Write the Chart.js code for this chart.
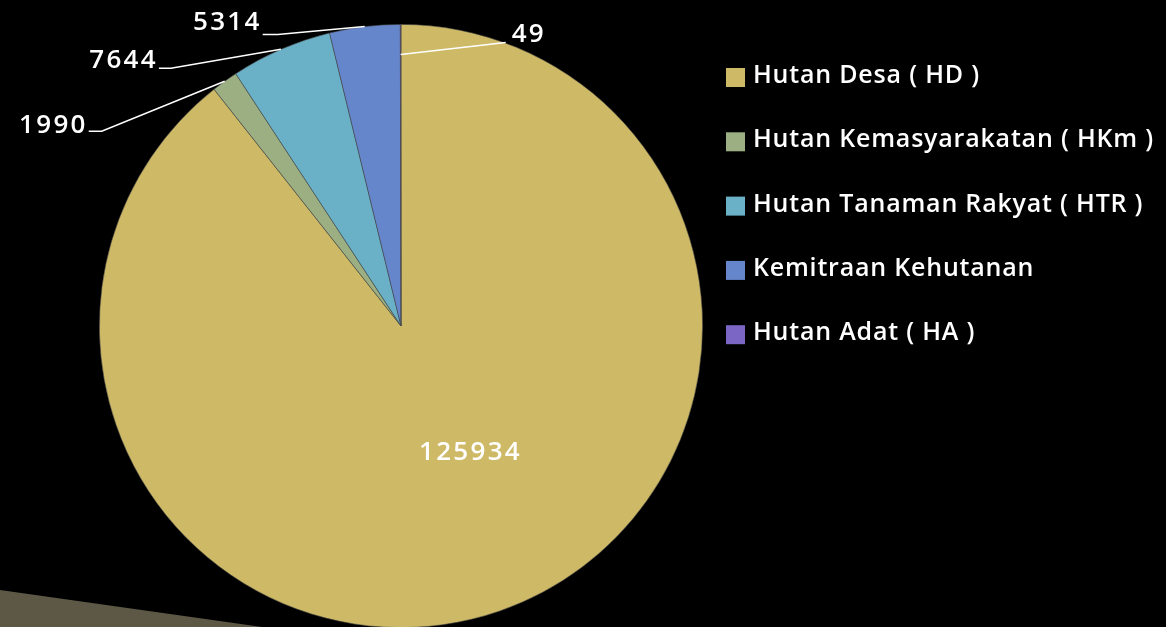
<!DOCTYPE html>
<html>
<head>
<meta charset="utf-8">
<script src="https://cdn.jsdelivr.net/npm/chart.js@4.4.0/dist/chart.umd.min.js"></script>
<style>
  html, body { margin: 0; padding: 0; background: #000; overflow: hidden; }
  #wrap { width: 1166px; height: 627px; overflow: hidden; }
</style>
</head>
<body>
<div id="wrap"><canvas id="chart1" width="1166" height="700"></canvas></div>
<script>
var categories = ['Hutan Desa ( HD )', 'Hutan Kemasyarakatan ( HKm )', 'Hutan Tanaman Rakyat ( HTR )', 'Kemitraan Kehutanan', 'Hutan Adat ( HA )'];
var luas = [125934, 1990, 7644, 5314, 49];
var warna = ['#CEB967', '#9BAF83', '#6AB1C8', '#6686CC', '#7B66C5'];

var FONT = '600 25px "Open Sans", sans-serif';
var NUM_FONT = '600 26px "Open Sans", sans-serif';

// leader line settings per slice (start radius factor, elbow offset, tail)
var leaders = [
    null,
    { r: 1.0, dx: -123, dy: 50, tail: -13, ty: -6 },
    { r: 1.0, dx: -110, dy: 19, tail: -12, ty: -8 },
    { r: 1.0, dx: -87, dy: 8, tail: -15, ty: -12 },
    { r: 0.9, dx: 105, dy: -12, tail: 0, ty: -8 }
];

var decoPlugin = {
    id: 'deco',
    beforeDatasetsDraw: function(chart) {
        var c = chart.ctx;
        c.save();
        c.fillStyle = '#5D5846';
        c.beginPath();
        c.moveTo(0, 590);
        c.lineTo(779, 700);
        c.lineTo(0, 700);
        c.closePath();
        c.fill();
        c.restore();
    }
};

var labelPlugin = {
    id: 'sliceLabels',
    afterDatasetsDraw: function(chart) {
        var c = chart.ctx;
        var meta = chart.getDatasetMeta(0);
        c.save();
        c.font = NUM_FONT;
        c.letterSpacing = '2.3px';
        c.fillStyle = '#fff';
        c.strokeStyle = '#fff';
        c.lineWidth = 1.5;
        meta.data.forEach(function(arc, i) {
            var mid = (arc.startAngle + arc.endAngle) / 2;
            var val = String(luas[i]);
            if (i === 0) {
                var rr = arc.outerRadius * 0.47;
                var a = mid - 0.17;
                c.textAlign = 'center';
                c.textBaseline = 'middle';
                c.fillText(val, arc.x + Math.cos(a) * rr + 1, arc.y + Math.sin(a) * rr + 2);
                return;
            }
            var L = leaders[i];
            var ax = arc.x + Math.cos(mid) * arc.outerRadius * L.r;
            var ay = arc.y + Math.sin(mid) * arc.outerRadius * L.r;
            var ex = ax + L.dx, ey = ay + L.dy;
            var tx = ex + L.tail;
            c.beginPath();
            c.moveTo(ax, ay);
            c.lineTo(ex, ey);
            c.lineTo(tx, ey);
            c.stroke();
            c.textBaseline = 'middle';
            if (L.dx < 0) {
                c.textAlign = 'right';
                c.fillText(val, tx - 1, ey + L.ty);
            } else {
                c.textAlign = 'left';
                c.fillText(val, tx + 6, ey + L.ty);
            }
        });
        c.restore();
    }
};

var legendPlugin = {
    id: 'sideLegend',
    afterDraw: function(chart) {
        var c = chart.ctx;
        c.save();
        c.font = FONT;
        c.letterSpacing = '0.8px';
        c.textAlign = 'left';
        c.textBaseline = 'middle';
        chart.data.labels.forEach(function(lbl, i) {
            var y = 76 + i * 64.3;
            c.fillStyle = warna[i];
            c.fillRect(726, y - 8, 19, 19);
            c.fillStyle = '#fff';
            c.fillText(lbl, 753, y);
        });
        c.restore();
    }
};

document.addEventListener("DOMContentLoaded", function() {
    var ctx1 = document.getElementById('chart1').getContext('2d');
    var chart1 = new Chart(ctx1, {
        type: 'pie',
        data: {
            labels: categories,
            datasets: [{
                data: luas,
                backgroundColor: warna,
                borderColor: 'rgba(70,70,70,0.7)',
                borderWidth: 0.8
            }]
        },
        options: {
            responsive: false,
            animation: false,
            layout: { padding: { left: 99, right: 463, top: 24, bottom: 72 } },
            plugins: {
                legend: { display: false },
                tooltip: { enabled: false }
            }
        },
        plugins: [decoPlugin, labelPlugin, legendPlugin]
    });
});
</script>
</body>
</html>
